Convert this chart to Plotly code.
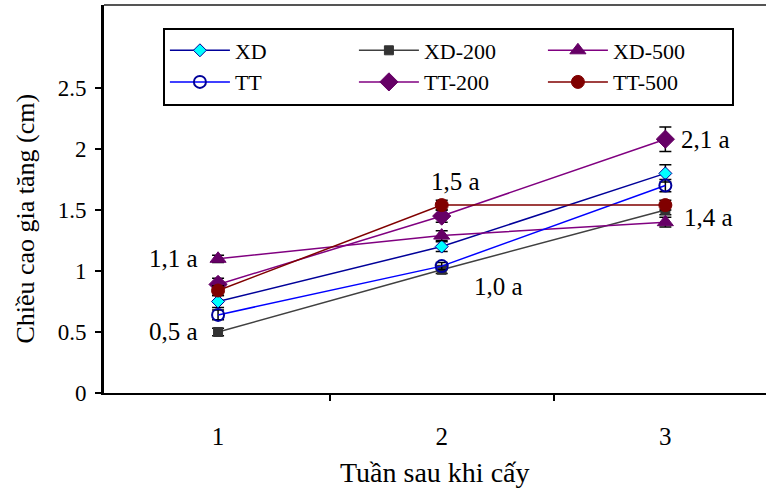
import plotly.graph_objects as go

weeks = [1, 2, 3]
series_names = ["XD", "XD-200", "XD-500", "TT", "TT-200", "TT-500"]
xd = [0.75, 1.20, 1.80]
xd200 = [0.50, 1.01, 1.50]
xd500 = [1.10, 1.29, 1.40]
tt = [0.64, 1.04, 1.70]
tt200 = [0.89, 1.45, 2.08]
tt500 = [0.84, 1.54, 1.54]
err_xd = [0.05, 0.04, 0.07]
err_xd200 = [0.03, 0.03, 0.04]
err_xd500 = [0.03, 0.04, 0.04]
err_tt = [0.04, 0.03, 0.05]
err_tt200 = [0.05, 0.05, 0.10]
err_tt500 = [0.04, 0.04, 0.04]

y_ticks = [0, 0.5, 1, 1.5, 2, 2.5]
y_ticktext = ["0", "0.5", "1", "1.5", "2", "2.5"]
x_ticktext = ["1", "2", "3"]

label_text = ["1,1 a", "0,5 a", "1,5 a", "1,0 a", "2,1 a", "1,4 a"]
label_x = [1, 1, 2, 2, 3, 3]
label_y = [1.1, 0.5, 1.54, 1.01, 2.08, 1.40]

FONT = "Liberation Serif"

styles = [
    dict(vals=xd, err=err_xd, line="#000099", sym="diamond", mcol="#00FFFF", mline="#000099", size=10, mlw=1),
    dict(vals=xd200, err=err_xd200, line="#404040", sym="square", mcol="#333333", mline="#333333", size=9, mlw=1),
    dict(vals=xd500, err=err_xd500, line="#800080", sym="triangle-up", mcol="#660066", mline="#660066", size=14, mlw=1),
    dict(vals=tt, err=err_tt, line="#0000FF", sym="circle-open", mcol="#000099", mline="#000099", size=12, mlw=2),
    dict(vals=tt200, err=err_tt200, line="#800080", sym="diamond", mcol="#660066", mline="#660066", size=14, mlw=1),
    dict(vals=tt500, err=err_tt500, line="#800000", sym="circle", mcol="#800000", mline="#800000", size=13, mlw=1),
]

fig = go.Figure()
for name, s in zip(series_names, styles):
    fig.add_trace(go.Scatter(
        x=weeks, y=s["vals"], name=name, mode="lines+markers",
        line=dict(color=s["line"], width=1.5),
        marker=dict(symbol=s["sym"], color=s["mcol"], size=s["size"],
                    line=dict(color=s["mline"], width=s["mlw"])),
        error_y=dict(type="data", array=s["err"], color="black", thickness=1.5, width=6),
    ))

annotations = []
anchors = [("right", -18, 0), ("right", -18, 0), ("center", 14, 24),
           ("left", 30, -17), ("left", 14, 0), ("left", 17, 5)]
for t, xv, yv, (xa, xs, ys) in zip(label_text, label_x, label_y, anchors):
    annotations.append(dict(x=xv, y=yv, xref="x", yref="y", text=t, showarrow=False,
                            xanchor=xa, yanchor="middle", xshift=xs, yshift=ys,
                            font=dict(family=FONT, size=25, color="black")))
annotations.append(dict(x=0.5, y=-0.204, xref="paper", yref="paper", yanchor="middle",
                        text="Tuần sau khi cấy", showarrow=False,
                        font=dict(family=FONT, size=28, color="black")))
annotations.append(dict(x=-0.119, y=0.45, xref="paper", yref="paper", textangle=-90,
                        xanchor="center", yanchor="middle",
                        text="Chiều cao gia tăng (cm)", showarrow=False,
                        font=dict(family=FONT, size=26, color="black")))

fig.update_layout(
    width=766, height=495,
    margin=dict(l=104, r=0, t=5, b=102),
    paper_bgcolor="white", plot_bgcolor="white",
    font=dict(family=FONT, size=23, color="black"),
    showlegend=True,
    legend=dict(orientation="h", x=0.089, y=0.942, xanchor="left", yanchor="top",
                bordercolor="black", borderwidth=2, bgcolor="white",
                entrywidth=114, entrywidthmode="pixels", itemwidth=60,
                font=dict(family=FONT, size=22, color="black"),
                tracegroupgap=0, itemsizing="trace"),
    xaxis=dict(range=[0.49, 3.45], tickvals=weeks, ticktext=x_ticktext, ticks="",
               showline=True, linecolor="black", linewidth=2, showgrid=False, zeroline=False,
               ticklabelstandoff=20, tickfont=dict(family=FONT, size=25),
               minor=dict(tickvals=[1.5, 2.5], ticks="outside", ticklen=6, tickcolor="black", tickwidth=1.5)),
    yaxis=dict(range=[0, 3.18], tickvals=y_ticks, ticktext=y_ticktext, ticks="outside",
               ticklen=6, tickcolor="black", tickwidth=1.5,
               showline=True, linecolor="black", linewidth=3, showgrid=False, zeroline=False,
               ticklabelstandoff=4, tickfont=dict(family=FONT, size=23)),
    annotations=annotations,
    shapes=[dict(type="line", xref="paper", yref="paper", x0=0, x1=1, y0=1, y1=1,
                 line=dict(color="#555555", width=2))],
)

fig.write_html("out.html", config={"displayModeBar": False},
               post_script="document.body.style.margin='0';document.body.style.overflow='hidden';")
